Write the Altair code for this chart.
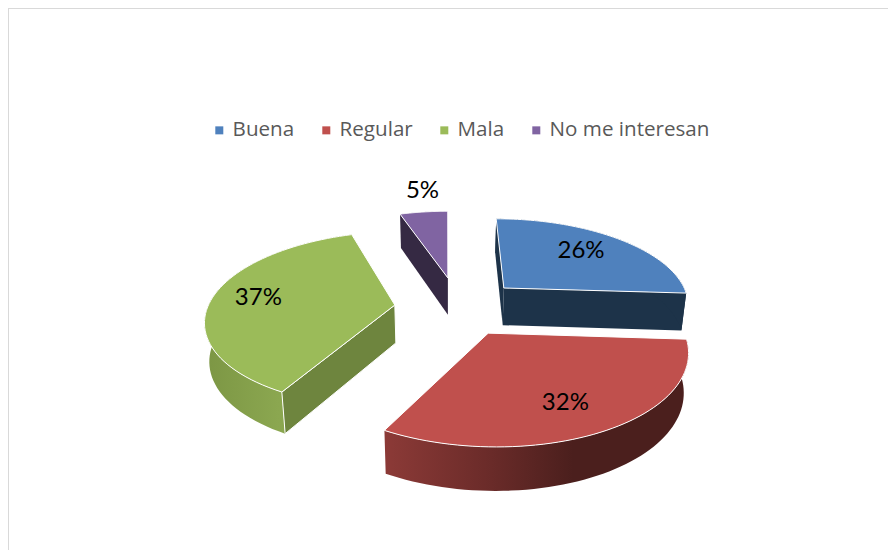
import math
import altair as alt

# ---- chart values ----
categories = ["Buena", "Regular", "Mala", "No me interesan"]
percent = [26, 32, 37, 5]
colors = ["#4F81BD", "#C0504D", "#9BBB59", "#8064A2"]

# ---- how the tilted, exploded pie is drawn ----
W, H = 880, 542
CX, CY, RX, RY, PERSP = 439, 296, 186, 85, 0.16
EXPLODE = {"Buena": (0.315, -0.194), "Regular": (0.21, 0.325),
           "Mala": (-0.28, 0.012), "No me interesan": (0.005, -0.322)}
# radius fraction and share of the slice's sweep at which each label sits
LABEL_AT = {"Buena": (0.70, 0.47), "Regular": (0.73, 0.519),
            "Mala": (0.75, 0.507), "No me interesan": (1.377, 0.60)}


def top_point(u, v, exp):
    U, V = u + exp[0], v + exp[1]
    s = 1 / (1 - PERSP * V)
    return [CX + RX * U * s, CY + RY * V * s]


def lower(p):
    depth = 34 + (p[1] + 8 - 214) * 10 / 233
    return [CX + (p[0] - CX) * 0.98, p[1] + depth]


def polygon(name, pts):
    ring = pts + [pts[0]]
    return {"type": "Feature", "properties": {"name": name},
            "geometry": {"type": "Polygon", "coordinates": [ring]}}


slices = {}
start = 0.0
for name, pct in zip(categories, percent):
    end = start + pct / 100 * 2 * math.pi
    exp = EXPLODE[name]
    n = 60
    arc = []
    for i in range(n + 1):
        t = start + (end - start) * i / n
        arc.append(top_point(math.sin(t), -math.cos(t), exp))
    slices[name] = {"apex": top_point(0, 0, exp), "arc": arc, "start": start, "end": end}
    start = end


def cut_face(name, point):
    a = slices[name]["apex"]
    return polygon(name, [point, a, lower(a), lower(point)])


def outer_wall(name):
    arc = slices[name]["arc"]
    return polygon(name, arc + [lower(p) for p in reversed(arc)])


top_faces = [polygon(n, [slices[n]["apex"]] + slices[n]["arc"]) for n in categories]
IDENTITY = dict(type="identity", scale=1, translate=[0, 0])


def shape(features, **mark):
    return alt.Chart(alt.Data(values=features)).mark_geoshape(**mark).project(**IDENTITY)


def gradient(stops):
    return alt.Gradient(gradient="linear", x1=0, x2=1, y1=0, y2=0,
                        stops=[alt.GradientStop(offset=o, color=c) for o, c in stops])


frame = shape([{
    "type": "Feature", "properties": {},
    "geometry": {"type": "LineString", "coordinates": [[0, H], [0, 0], [W, 0]]}}],
    filled=False, stroke="#D9D9D9", strokeWidth=2)

walls = [
    shape([cut_face("No me interesan", slices["No me interesan"]["arc"][0])], fill="#352943"),
    shape([cut_face("Buena", slices["Buena"]["arc"][0])], fill="#1D3349"),
    shape([cut_face("Buena", slices["Buena"]["arc"][-1])], fill="#1D3349"),
    shape([outer_wall("Buena")], fill="#1D3349"),
    shape([outer_wall("Mala")], fill=gradient([(0, "#7C9644"), (0.5, "#8BA750"), (1, "#7A9443")])),
    shape([cut_face("Mala", slices["Mala"]["arc"][0])], fill="#6E853E", stroke="white", strokeWidth=1),
    shape([outer_wall("Regular")], fill=gradient([(0, "#8C3A37"), (0.35, "#6A2B29"), (0.62, "#4B1F1D"), (1, "#4B1F1D")])),
]

tops = alt.Chart(alt.Data(values=top_faces)).mark_geoshape(stroke="white", strokeWidth=1).encode(
    color=alt.Color(
        "properties.name:N",
        scale=alt.Scale(domain=categories, range=colors),
        legend=alt.Legend(
            title=None, orient="none", legendX=201, legendY=112, direction="horizontal",
            symbolType="square", symbolSize=64, symbolStrokeWidth=0,
            labelFont="Open Sans", labelFontSize=20.6, labelColor="#595959", labelLimit=300,
            columnPadding=21, symbolOffset=0, labelOffset=3, columns=4,
        ),
    )
).project(**IDENTITY)

label_rows = []
for name, pct in zip(categories, percent):
    s = slices[name]
    frac, share = LABEL_AT[name]
    t = s["start"] + (s["end"] - s["start"]) * share
    x, y = top_point(frac * math.sin(t), -frac * math.cos(t), EXPLODE[name])
    label_rows.append({"lon": x, "lat": y, "text": f"{pct}%"})

labels = alt.Chart(alt.Data(values=label_rows)).mark_text(
    font="Lato", fontSize=24, color="black"
).encode(
    longitude="lon:Q", latitude="lat:Q", text="text:N"
).project(**IDENTITY)

chart = alt.layer(frame, *walls, tops, labels).properties(
    width=W, height=H, padding=0, autosize=alt.AutoSizeParams(type="none")
).configure_view(stroke=None)

chart.save("out.html", embed_options={"renderer": "svg", "actions": False})
